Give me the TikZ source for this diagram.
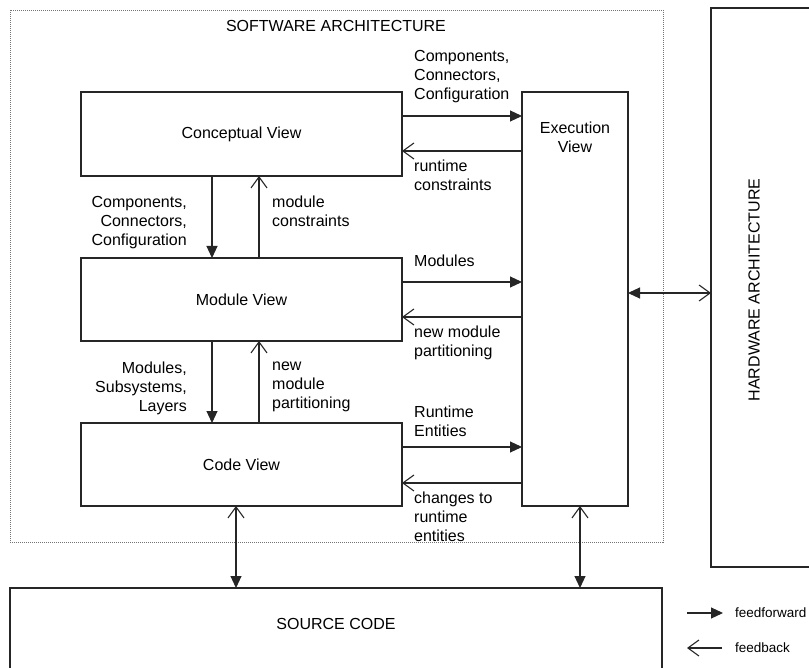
\documentclass[tikz,border=0pt]{standalone}
\usepackage{fontspec}
\setmainfont{Liberation Sans}
\usetikzlibrary{arrows.meta,calc}
\begin{document}
\begin{tikzpicture}[x=1pt,y=-1pt,
  box/.style={draw=black!85, line width=1.2pt, rectangle, inner sep=0pt, outer sep=0pt, anchor=north west, font=\fontsize{16}{19}\selectfont},
  lbl/.style={inner sep=0pt, font=\fontsize{16}{19}\selectfont, align=left},
  lblr/.style={inner sep=0pt, font=\fontsize{16}{19}\selectfont, align=right},
  leg/.style={inner sep=0pt, font=\fontsize{13.5}{16}\selectfont, anchor=west},
  conn/.style={draw=black!85, line width=1.1pt},
  ff/.style={conn, -{Triangle[length=12pt,width=11pt]}},
  fb/.style={conn, -{Straight Barb[length=11pt,width=16pt]}},
  both/.style={conn, {Straight Barb[length=11pt,width=16pt]}-{Triangle[length=12pt,width=11pt]}},
]
\useasboundingbox (0,0) rectangle (809,668);
\clip (0,0) rectangle (809,668);
\fill[white] (0,0) rectangle (809,668);

% containers
\node[draw=black!55, dash pattern=on 1pt off 1pt, line width=0.8pt, minimum width=653pt, minimum height=532pt, anchor=north west, inner sep=0pt, outer sep=0pt] (sw) at (10,10) {};
\node[lbl, anchor=north] (swt) at (336,20) {SOFTWARE ARCHITECTURE};

\node[box, minimum width=120pt, minimum height=559pt] (hw) at (711,8) {};
\node[lbl, rotate=90] (hwt) at (754,290) {HARDWARE ARCHITECTURE};

\node[box, minimum width=652pt, minimum height=112pt] (src) at (10,588) {};
\node[lbl] (srct) at (336,624) {SOURCE CODE};

% views
\node[box, minimum width=321pt, minimum height=84pt] (concept) at (81,92) {};
\node[lbl] at (concept.center) {Conceptual View};
\node[box, minimum width=321pt, minimum height=83pt] (module) at (81,258) {};
\node[lbl] at (module.center) {Module View};
\node[box, minimum width=321pt, minimum height=83pt] (code) at (81,423) {};
\node[lbl] at (code.center) {Code View};
\node[box, minimum width=106pt, minimum height=414pt] (exec) at (522,92) {};
\node[lbl, align=center, anchor=north] (exect) at ($(exec.north)+(0,30)$) {Execution\\View};

% horizontal connectors to/from execution view
\coordinate (c1) at ($(concept.north east)+(0,24)$);
\coordinate (c2) at ($(concept.north east)+(0,59)$);
\draw[ff] (c1) -- (c1 -| exec.west);
\draw[fb] (c2 -| exec.west) -- (c2);
\coordinate (m1) at ($(module.north east)+(0,24)$);
\coordinate (m2) at ($(module.north east)+(0,59)$);
\draw[ff] (m1) -- (m1 -| exec.west);
\draw[fb] (m2 -| exec.west) -- (m2);
\coordinate (k1) at ($(code.north east)+(0,24)$);
\coordinate (k2) at ($(code.north east)+(0,60)$);
\draw[ff] (k1) -- (k1 -| exec.west);
\draw[fb] (k2 -| exec.west) -- (k2);

% vertical connectors between views
\coordinate (d1) at ($(concept.south west)+(131,0)$);
\coordinate (u1) at ($(concept.south west)+(178,0)$);
\draw[ff] (d1) -- (d1 |- module.north);
\draw[fb] (u1 |- module.north) -- (u1);
\coordinate (d2) at ($(module.south west)+(131,0)$);
\coordinate (u2) at ($(module.south west)+(178,0)$);
\draw[ff] (d2) -- (d2 |- code.north);
\draw[fb] (u2 |- code.north) -- (u2);

% to source code and hardware
\coordinate (s1) at ($(code.south west)+(155,0)$);
\draw[both] (s1) -- (s1 |- src.north);
\coordinate (s2) at ($(exec.south)+(5,0)$);
\draw[both] (s2) -- (s2 |- src.north);
\coordinate (h1) at ($(exec.east)+(0,-6)$);
\draw[both] (h1 -| hw.west) -- (h1);

% labels
\node[lbl, anchor=north west] at (414,50) {Components,\\Connectors,\\Configuration};
\node[lbl, anchor=north west] at (414,160) {runtime\\constraints};
\node[lblr, anchor=north east] at (187,196) {Components,\\Connectors,\\Configuration};
\node[lbl, anchor=north west] at (272,196) {module\\constraints};
\node[lbl, anchor=north west] at (414,255) {Modules};
\node[lbl, anchor=north west] at (414,326) {new module\\partitioning};
\node[lblr, anchor=north east] at (187,362) {Modules,\\Subsystems,\\Layers};
\node[lbl, anchor=north west] at (272,362) {new\\module\\partitioning};
\node[lbl, anchor=north west] at (414,406) {Runtime\\Entities};
\node[lbl, anchor=north west] at (414,492) {changes to\\runtime\\entities};

% legend
\coordinate (lf1) at (687,613);
\coordinate (lf2) at (723,613);
\coordinate (lb1) at (722,648);
\coordinate (lb2) at (687,648);
\draw[ff] (lf1) -- (lf2);
\draw[fb] (lb1) -- (lb2);
\node[leg] at (735,613) {feedforward};
\node[leg] at (735,648) {feedback};
\end{tikzpicture}
\end{document}
